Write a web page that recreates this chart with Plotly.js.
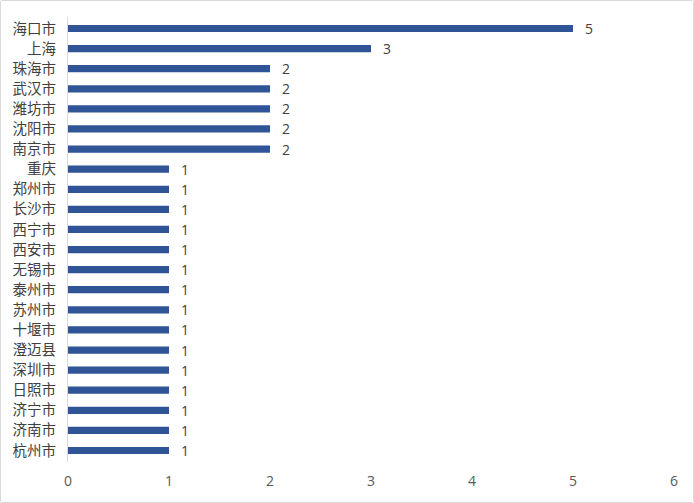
<!DOCTYPE html>
<html><head><meta charset="utf-8">
<script src="https://cdn.plot.ly/plotly-3.0.1.min.js"></script>
<style>
html,body{margin:0;padding:0;background:#fff;}
#wrap{width:692px;height:501px;border:1px solid #d9d9d9;border-radius:2px;position:relative;}
#chart{width:692px;height:501px;}
</style></head>
<body><div id="wrap"><div id="chart"></div></div>
<script>
const categories = ["海口市","上海","珠海市","武汉市","潍坊市","沈阳市","南京市","重庆","郑州市","长沙市","西宁市","西安市","无锡市","泰州市","苏州市","十堰市","澄迈县","深圳市","日照市","济宁市","济南市","杭州市"];
const values = [5,3,2,2,2,2,2,1,1,1,1,1,1,1,1,1,1,1,1,1,1,1];
const xTicks = [0,1,2,3,4,5,6];

const font = "'Noto Sans CJK SC', 'Microsoft YaHei', sans-serif";
const numFont = "'Open Sans', 'Segoe UI', sans-serif";
const annotations = categories.map((c, i) => ({
  x: values[i], y: c, xref: 'x', yref: 'y', text: String(values[i]),
  showarrow: false, xanchor: 'left', yanchor: 'middle', xshift: 10,
  font: {family: numFont, size: 14, color: '#404040'}
}));
Plotly.newPlot('chart', [{
  type: 'bar',
  orientation: 'h',
  y: categories,
  x: values,
  marker: {color: '#2F5597'},
  hoverinfo: 'none'
}], {
  width: 692, height: 501,
  margin: {l: 67, r: 19, t: 16, b: 40},
  paper_bgcolor: '#fff', plot_bgcolor: '#fff',
  bargap: 0.64,
  showlegend: false,
  annotations: annotations,
  xaxis: {range: [0, 6], tickvals: xTicks, showgrid: false, zeroline: false, showline: false,
          ticks: '', ticklabelstandoff: 9, tickfont: {family: numFont, size: 14, color: '#595959'}, fixedrange: true},
  yaxis: {autorange: 'reversed', type: 'category', showgrid: false, zeroline: false,
          showline: true, linecolor: '#d9d9d9', linewidth: 1, ticks: '', ticklabelstandoff: 8,
          tickfont: {family: font, size: 14.5, color: '#404040'}, fixedrange: true}
}, {displayModeBar: false, staticPlot: true});
</script></body></html>
